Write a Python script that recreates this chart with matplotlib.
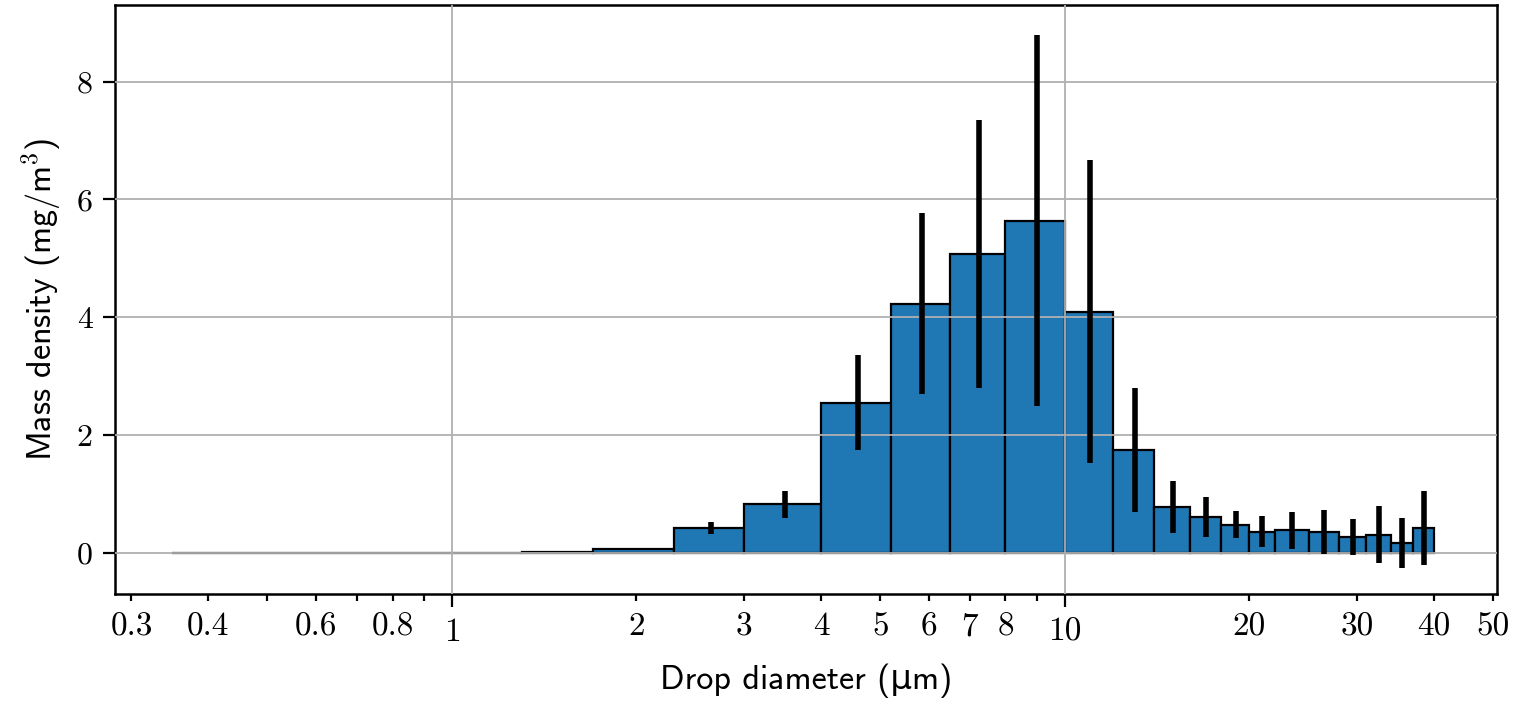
import matplotlib
matplotlib.use("Agg")
import matplotlib.pyplot as plt
import numpy as np

# ---- data ----
bin_edges = [0.35, 0.46, 0.66, 1.0, 1.3, 1.7, 2.3, 3.0, 4.0, 5.2, 6.5, 8.0,
             10.0, 12.0, 14.0, 16.0, 18.0, 20.0, 22.0, 25.0, 28.0, 31.0, 34.0, 37.0, 40.0]
mass_density = [0.0, 0.0, 0.0, 0.0, 0.02, 0.06, 0.42, 0.82, 2.55, 4.23, 5.07, 5.64,
                 4.09, 1.75, 0.78, 0.60, 0.48, 0.36, 0.38, 0.35, 0.27, 0.31, 0.17, 0.42]
mass_err = [0.0, 0.0, 0.0, 0.0, 0.0, 0.0, 0.10, 0.23, 0.80, 1.54, 2.28, 3.15,
            2.57, 1.05, 0.44, 0.34, 0.23, 0.26, 0.32, 0.37, 0.31, 0.49, 0.42, 0.63]

major_xticks = [1, 10]
major_xlabels = ["1", "10"]
minor_xticks = [0.3, 0.4, 0.5, 0.6, 0.7, 0.8, 0.9, 2, 3, 4, 5, 6, 7, 8, 9,
                20, 30, 40, 50]
minor_xlabels = ["0.3", "0.4", "", "0.6", "", "0.8", "", "2", "3", "4", "5", "6", "7", "8", "",
                 "20", "30", "40", "50"]
yticks = [0, 2, 4, 6, 8]
ylabels = ["0", "2", "4", "6", "8"]

plt.rcParams['mathtext.fontset'] = 'cm'

edges = np.array(bin_edges)
left = edges[:-1]
widths = np.diff(edges)
centers = (edges[:-1] + edges[1:]) / 2

fig = plt.figure(figsize=(15.13, 7.02), dpi=100)
ax = fig.add_axes([0.076, 0.1538, 0.9134, 0.8391])

ax.bar(left, mass_density, width=widths, align='edge', color='#1f77b4',
       edgecolor='black', linewidth=1.6, zorder=1)

err_mask = np.array(mass_err) > 0
ax.errorbar(centers[err_mask], np.array(mass_density)[err_mask],
            yerr=np.array(mass_err)[err_mask], fmt='none', ecolor='black',
            elinewidth=4, capsize=0, zorder=3)

ax.set_xscale('log')
ax.set_xlim(0.282, 50.7)
ax.set_ylim(-0.7, 9.3)

ax.set_axisbelow(False)
ax.grid(True, which='major', color='#b0b0b0', linewidth=1.3)

tick_font = dict(family='cmr10')
ax.set_xticks(major_xticks)
ax.set_xticklabels(major_xlabels, fontsize=24, **tick_font)
ax.set_xticks(minor_xticks, minor=True)
ax.set_xticklabels(minor_xlabels, minor=True, fontsize=24, **tick_font)
ax.set_yticks(yticks)
ax.set_yticklabels(ylabels, fontsize=23, **tick_font)

ax.tick_params(axis='x', which='major', length=9, width=1.6, pad=8)
ax.tick_params(axis='x', which='minor', length=5, width=1.6, pad=8)
ax.tick_params(axis='y', which='major', length=9, width=1.6, pad=7)

for s in ax.spines.values():
    s.set_linewidth(1.8)

label_font = ['cmss10', 'DejaVu Sans']
ax.set_xlabel('Drop diameter (\u03bcm)', fontsize=24.5, family=label_font, labelpad=12)
ax.set_ylabel('Mass density (mg/m$^3$)', fontsize=24.5, family=label_font, labelpad=10)

fig.savefig('out.png', dpi=100)
